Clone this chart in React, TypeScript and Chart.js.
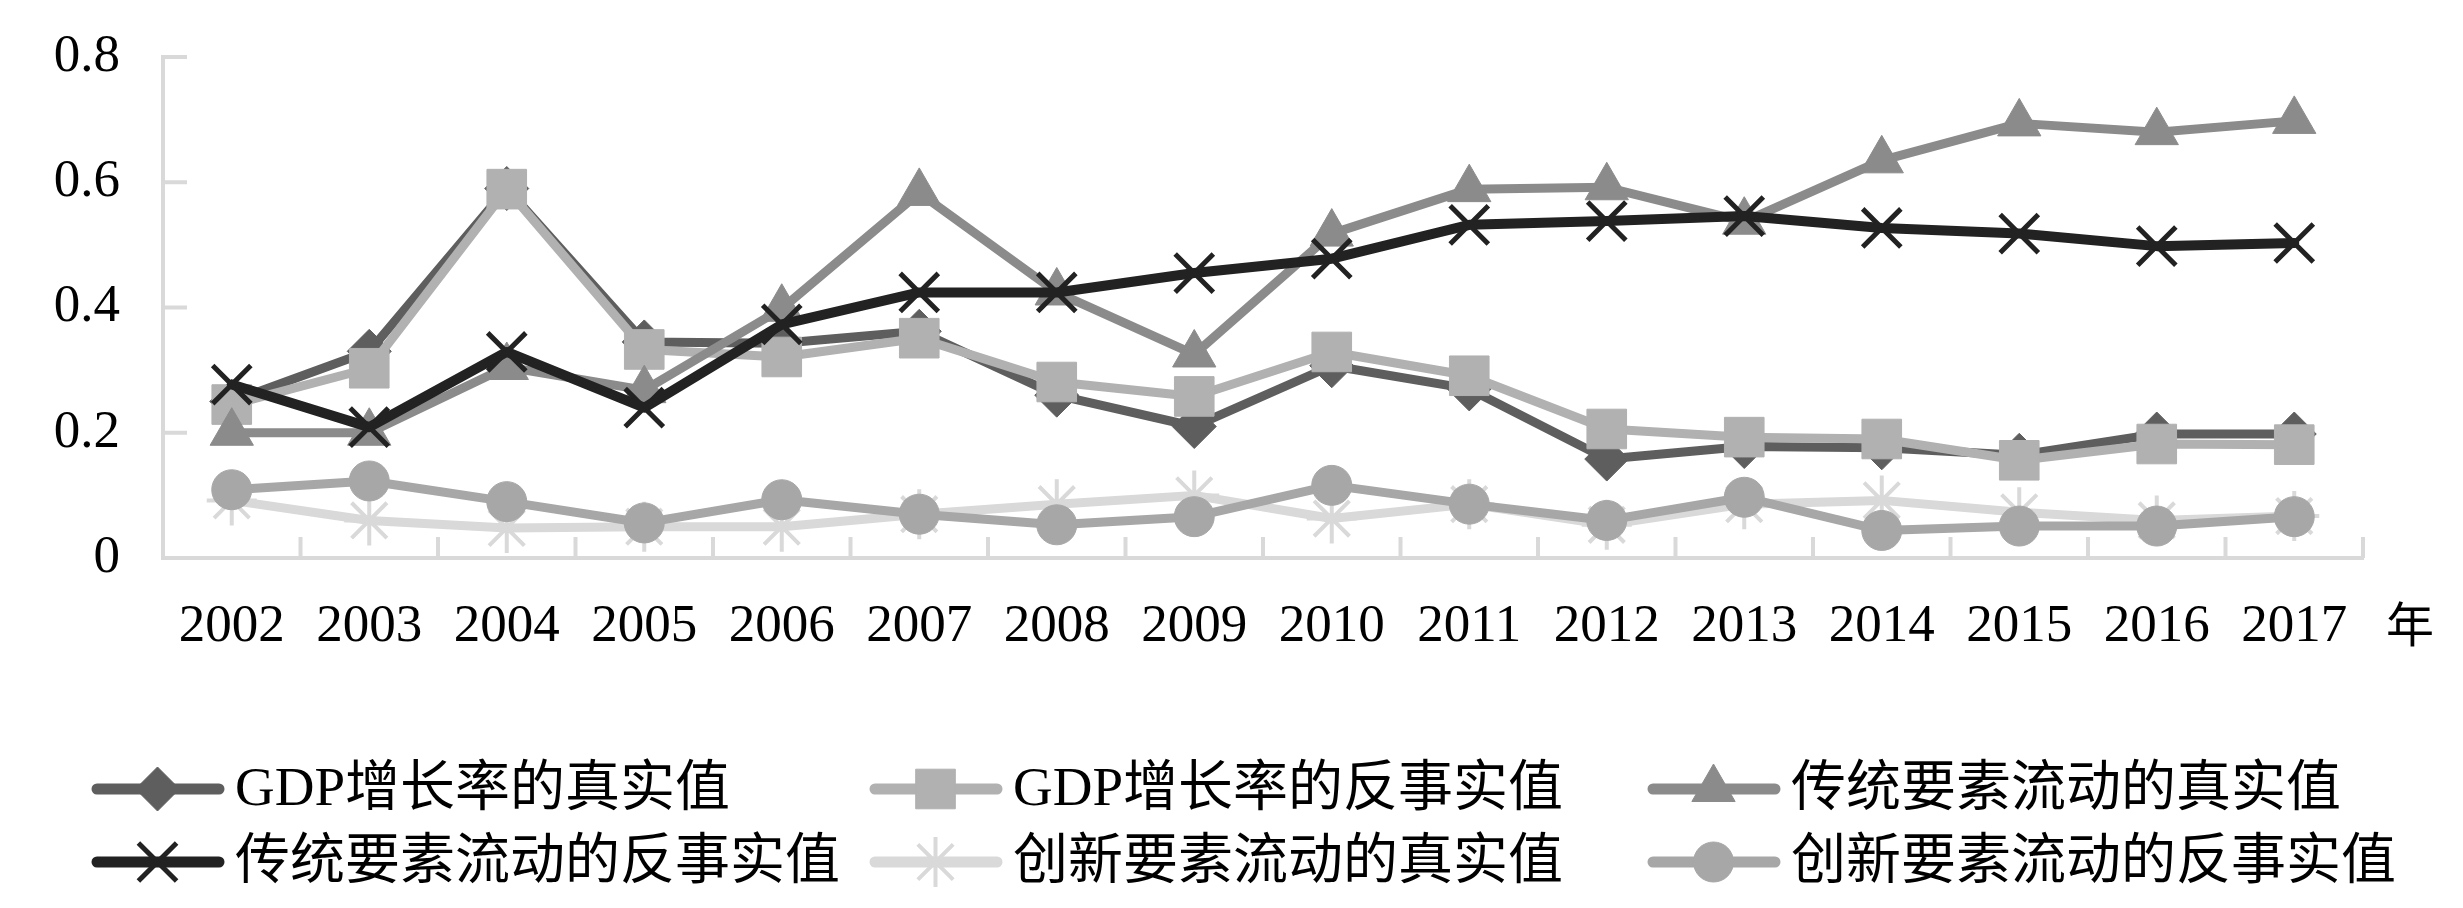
import React, { useEffect, useRef } from 'react';
import { Chart, registerables } from 'chart.js';
import { drawPoint } from 'chart.js/helpers';

Chart.register(...registerables);

const years = ['2002', '2003', '2004', '2005', '2006', '2007', '2008', '2009', '2010', '2011', '2012', '2013', '2014', '2015', '2016', '2017'];

const gdpReal = [0.25, 0.33, 0.59, 0.345, 0.343, 0.362, 0.26, 0.21, 0.307, 0.27, 0.158, 0.178, 0.176, 0.164, 0.198, 0.198];
const gdpCounterfactual = [0.245, 0.303, 0.589, 0.333, 0.321, 0.351, 0.281, 0.258, 0.329, 0.291, 0.206, 0.193, 0.19, 0.156, 0.182, 0.181];
const tradReal = [0.2, 0.2, 0.305, 0.268, 0.398, 0.583, 0.424, 0.325, 0.518, 0.589, 0.592, 0.537, 0.635, 0.694, 0.68, 0.698];
const tradCounterfactual = [0.277, 0.209, 0.329, 0.24, 0.373, 0.424, 0.424, 0.455, 0.478, 0.532, 0.538, 0.546, 0.527, 0.518, 0.498, 0.503];
const innoReal = [0.092, 0.06, 0.048, 0.05, 0.05, 0.07, 0.086, 0.1, 0.063, 0.086, 0.053, 0.086, 0.092, 0.073, 0.06, 0.067];
const innoCounterfactual = [0.109, 0.123, 0.09, 0.056, 0.093, 0.07, 0.053, 0.066, 0.116, 0.086, 0.06, 0.097, 0.044, 0.051, 0.051, 0.066];

const seriesLabels = [
  'GDP增长率的真实值',
  'GDP增长率的反事实值',
  '传统要素流动的真实值',
  '传统要素流动的反事实值',
  '创新要素流动的真实值',
  '创新要素流动的反事实值',
];

const yMin = 0;
const yMax = 0.8;
const yStep = 0.2;
const unitLabel = '年';

const seriesData = [gdpReal, gdpCounterfactual, tradReal, tradCounterfactual, innoReal, innoCounterfactual];
const seriesColors = ['#5e5e5e', '#b1b1b1', '#8b8b8b', '#222222', '#d9d9d9', '#a7a7a7'];
const seriesPointStyles = ['rectRot', 'rect', 'triangle', 'crossRot', 'star', 'circle'];
const seriesPointRadius = [22, 28, 25, 27, 25, 20];
const seriesPointBorder = [1, 1, 1, 5, 4, 1];

const LATIN_FONT = '"Liberation Serif", "Times New Roman", serif';
const MIXED_FONT = '"Liberation Serif", "Noto Sans CJK SC", serif';
const AXIS_COLOR = '#d9d9d9';

const insideTicksPlugin = {
  id: 'insideTicks',
  beforeDatasetsDraw(chart: any) {
    const { ctx } = chart;
    const xs = chart.scales.x;
    const ys = chart.scales.y;
    ctx.save();
    ctx.strokeStyle = AXIS_COLOR;
    ctx.lineWidth = 4;
    ctx.lineCap = 'butt';
    const left = xs.left;
    const bottom = ys.bottom;
    ys.ticks.forEach((t: any) => {
      const py = ys.getPixelForValue(t.value);
      ctx.beginPath();
      ctx.moveTo(left, py);
      ctx.lineTo(left + 24, py);
      ctx.stroke();
    });
    const w = xs.getPixelForValue(1) - xs.getPixelForValue(0);
    for (let i = 1; i <= years.length; i++) {
      const px = xs.getPixelForValue(i - 1) + w / 2;
      ctx.beginPath();
      ctx.moveTo(px, bottom);
      ctx.lineTo(px, bottom - 21);
      ctx.stroke();
    }
    ctx.restore();
  },
};

const extrasPlugin = {
  id: 'extras',
  afterDraw(chart: any) {
    const { ctx } = chart;
    const xs = chart.scales.x;
    ctx.save();
    ctx.fillStyle = '#000';
    ctx.font = `48px "Noto Sans CJK SC", sans-serif`;
    ctx.textAlign = 'center';
    ctx.textBaseline = 'middle';
    ctx.fillText(unitLabel, xs.right + 47, xs.top + 66);

    const colX = [84, 862, 1640];
    const rowY = [781, 854];
    chart.data.datasets.forEach((ds: any, i: number) => {
      const col = i % 3;
      const row = Math.floor(i / 3);
      const x0 = colX[col];
      const y0 = rowY[row];
      const lineLen = 127;
      ctx.strokeStyle = ds.borderColor;
      ctx.lineWidth = 11;
      ctx.lineCap = 'round';
      ctx.beginPath();
      ctx.moveTo(x0 + 5, y0);
      ctx.lineTo(x0 + lineLen, y0);
      ctx.stroke();
      ctx.fillStyle = ds.pointBackgroundColor;
      ctx.strokeStyle = ds.pointBorderColor;
      ctx.lineWidth = ds.pointBorderWidth;
      ctx.lineCap = 'butt';
      drawPoint(ctx, {
        pointStyle: ds.pointStyle,
        radius: ds.pointRadius,
        borderWidth: ds.pointBorderWidth,
        rotation: 0,
      } as any, x0 + lineLen / 2 + 2, y0);
      ctx.fillStyle = '#000';
      ctx.font = `55px ${MIXED_FONT}`;
      ctx.textAlign = 'left';
      ctx.textBaseline = 'middle';
      ctx.fillText(ds.label, x0 + 143, y0 + 2);
    });
    ctx.restore();
  },
};

export default function App() {
  const canvasRef = useRef<HTMLCanvasElement | null>(null);

  useEffect(() => {
    if (!canvasRef.current) return;
    const datasets = seriesData.map((data, i) => ({
      label: seriesLabels[i],
      data,
      borderColor: seriesColors[i],
      backgroundColor: seriesColors[i],
      pointBackgroundColor: seriesColors[i],
      pointBorderColor: seriesColors[i],
      pointStyle: seriesPointStyles[i],
      pointRadius: seriesPointRadius[i],
      pointBorderWidth: seriesPointBorder[i],
      borderWidth: i === 3 ? 10 : 9,
      borderCapStyle: 'round',
      borderJoinStyle: 'round',
      tension: 0,
      fill: false,
      order: seriesData.length - i,
    }));

    const chart = new Chart(canvasRef.current, {
      type: 'line',
      data: { labels: years, datasets: datasets as any },
      options: {
        animation: false,
        responsive: true,
        maintainAspectRatio: false,
        layout: { padding: { top: 49, right: 92, bottom: 0, left: 0 } },
        plugins: {
          legend: { display: false },
          tooltip: { enabled: false },
        },
        scales: {
          x: {
            type: 'category',
            offset: true,
            grid: { display: true, drawOnChartArea: false, drawTicks: true, tickLength: 27, tickColor: 'rgba(0,0,0,0)', color: AXIS_COLOR },
            border: { display: true, color: AXIS_COLOR, width: 4 },
            ticks: {
              color: '#000',
              font: { family: LATIN_FONT, size: 53 },
              padding: 10,
              maxRotation: 0,
              autoSkip: false,
            },
            afterFit: (s: any) => {
              s.height = 342;
            },
          },
          y: {
            type: 'linear',
            min: yMin,
            max: yMax,
            grid: { display: true, drawOnChartArea: false, drawTicks: true, tickLength: 33, tickColor: 'rgba(0,0,0,0)', color: AXIS_COLOR },
            border: { display: true, color: AXIS_COLOR, width: 4 },
            ticks: {
              stepSize: yStep,
              color: '#000',
              font: { family: LATIN_FONT, size: 53 },
              padding: 10,
            },
            afterFit: (s: any) => {
              s.width = 155;
            },
          },
        },
      },
      plugins: [insideTicksPlugin, extrasPlugin],
    });
    return () => chart.destroy();
  }, []);

  return (
    <div style={{ width: 2447, height: 892, position: 'relative' }}>
      <canvas ref={canvasRef} />
    </div>
  );
}
